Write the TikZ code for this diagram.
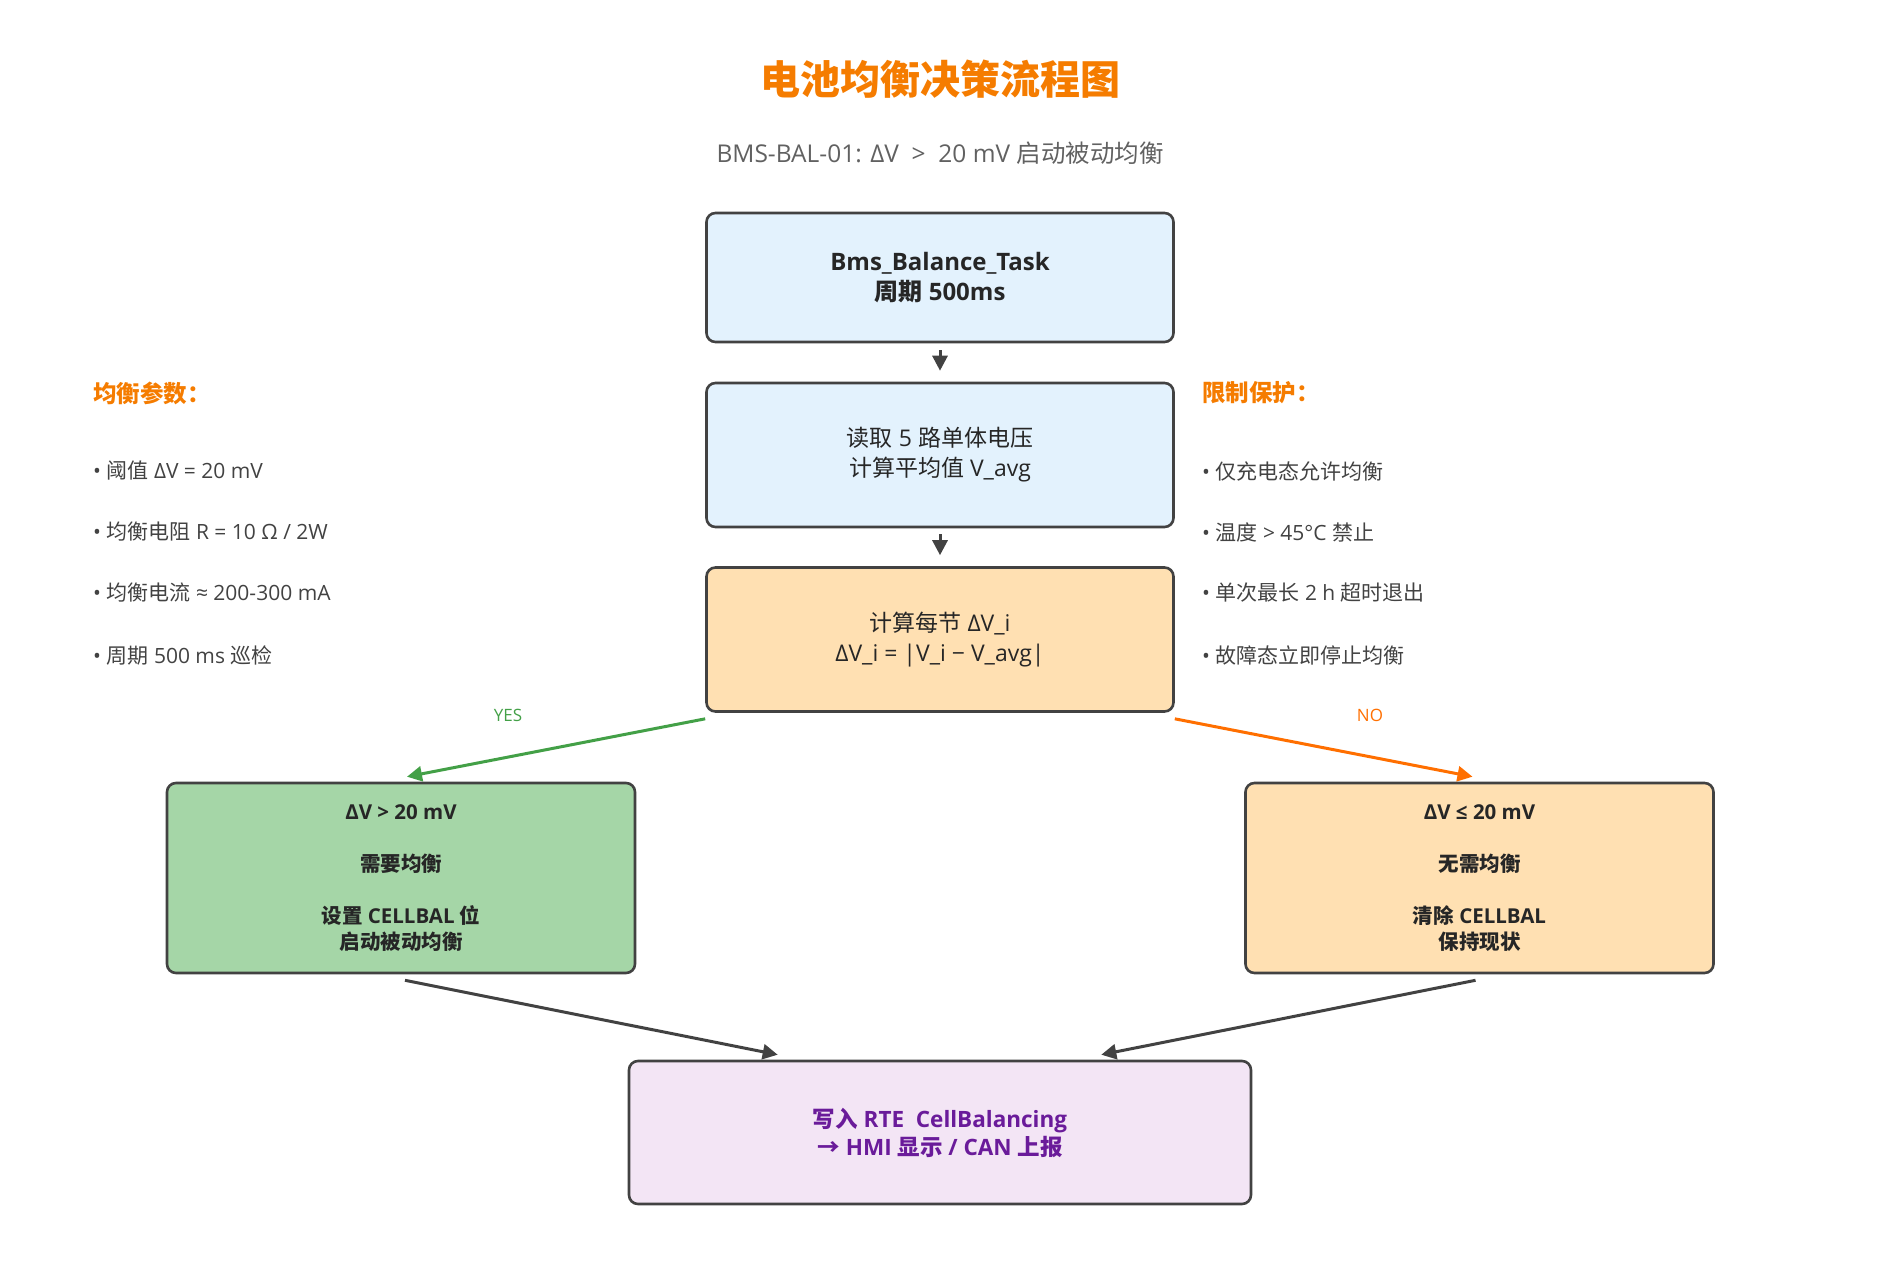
\documentclass[tikz,border=0pt]{standalone}
\usepackage{fontspec}
\setmainfont{Open Sans}
\newfontfamily\cjk{Noto Sans CJK SC}
\newcommand{\C}[1]{{\cjk #1}}
\usetikzlibrary{arrows.meta,calc}
\definecolor{bordc}{HTML}{424242}
\definecolor{bluef}{HTML}{E3F2FD}
\definecolor{orangef}{HTML}{FFE0B2}
\definecolor{greenf}{HTML}{A5D6A7}
\definecolor{purplef}{HTML}{F3E5F5}
\definecolor{purplet}{HTML}{6A1B9A}
\definecolor{titleor}{HTML}{F57C00}
\definecolor{yesc}{HTML}{43A047}
\definecolor{noc}{HTML}{FF6F00}
\definecolor{subc}{HTML}{616161}
\definecolor{txtc}{HTML}{262626}
\tikzset{
  box/.style={draw=bordc, line width=2.6pt, rounded corners=9pt, align=center,
    text=txtc, inner sep=0pt},
  mainbox/.style={box, minimum width=467pt, minimum height=129pt},
  midbox/.style={box, minimum width=467pt, minimum height=144pt},
  sidebox/.style={box, minimum width=468pt, minimum height=190pt,
    font=\fontsize{20.5}{26}\selectfont\bfseries},
  arr/.style={-{Triangle[length=15pt,width=15pt]}, line width=3pt, draw=bordc},
  heading/.style={anchor=west, text=titleor, font=\fontsize{23.5}{28}\selectfont\bfseries, inner sep=0pt},
  bullet/.style={anchor=west, text=bordc, font=\fontsize{21}{26}\selectfont, inner sep=0pt},
  lbl/.style={font=\fontsize{17}{20}\selectfont, inner sep=0pt}
}
\begin{document}
\begin{tikzpicture}[x=1pt,y=-1pt]
\useasboundingbox (0,0) rectangle (1879,1264);
% title
\node[text=titleor, font=\fontsize{40}{48}\selectfont\bfseries] (title) at (940,79) {\C{电池均衡决策流程图}};
\node[text=subc, font=\fontsize{24.5}{30}\selectfont] (sub) at (940,153) {BMS-BAL-01: ΔV \ > \ 20 mV \C{启动被动均衡}};
% main boxes
\node[mainbox, fill=bluef, font=\fontsize{24}{30}\selectfont\bfseries] (b1) at (940,277.5) {Bms\_Balance\_Task\\\C{周期} 500ms};
\node[midbox, fill=bluef, font=\fontsize{23}{30}\selectfont] (b2) at (940,455) {\C{读取} 5 \C{路单体电压}\\\C{计算平均值} V\_avg};
\node[midbox, fill=orangef, font=\fontsize{23}{30}\selectfont] (b3) at (940,639.5) {\C{计算每节} ΔV\_i\\ΔV\_i = |V\_i − V\_avg|};
\node[sidebox, fill=greenf] (g) at (401,878) {ΔV > 20 mV\\[26pt]\C{需要均衡}\\[26pt]\C{设置} CELLBAL \C{位}\\\C{启动被动均衡}};
\node[sidebox, fill=orangef] (n) at (1479.5,878) {ΔV ≤ 20 mV\\[26pt]\C{无需均衡}\\[26pt]\C{清除} CELLBAL\\\C{保持现状}};
\node[box, fill=purplef, minimum width=622pt, minimum height=143pt, text=purplet,
  font=\fontsize{22.5}{28}\selectfont\bfseries] (p) at (940,1132.5) {\C{写入} RTE\ \ CellBalancing\\\C{→} HMI \C{显示} / CAN \C{上报}};
% arrows
\draw[arr] ($(b1.south)+(0,7)$) -- ($(b2.north)+(0,-11)$);
\draw[arr] ($(b2.south)+(0,6)$) -- ($(b3.north)+(0,-11)$);
\draw[arr, draw=yesc] ($(b3.south west)+(0,6)$) -- ($(g.north)+(6,-5)$);
\draw[arr, draw=noc] ($(b3.south east)+(0,6)$) -- ($(n.north)+(-7,-5)$);
\draw[arr] ($(g.south)+(4,6)$) -- ($(p.north west)+(150,-5)$);
\draw[arr] ($(n.south)+(-4,6)$) -- ($(p.north east)+(-151,-5)$);
\node[lbl, text=yesc] (yes) at (508,715) {YES};
\node[lbl, text=noc] (no) at (1370,715) {NO};
% left notes
\node[heading] (lh) at (93,393) {\C{均衡参数：}};
\node[bullet] (l1) at (93,471) {• \C{阈值} ΔV = 20 mV};
\node[bullet] (l2) at (93,532) {• \C{均衡电阻} R = 10 Ω / 2W};
\node[bullet] (l3) at (93,593) {• \C{均衡电流} ≈ 200-300 mA};
\node[bullet] (l4) at (93,655) {• \C{周期} 500 ms \C{巡检}};
% right notes
\node[heading] (rh) at (1202,393) {\C{限制保护：}};
\node[bullet] (r1) at (1202,471) {• \C{仅充电态允许均衡}};
\node[bullet] (r2) at (1202,532) {• \C{温度} > 45°C \C{禁止}};
\node[bullet] (r3) at (1202,593) {• \C{单次最长} 2 h \C{超时退出}};
\node[bullet] (r4) at (1202,655) {• \C{故障态立即停止均衡}};
\end{tikzpicture}
\end{document}
